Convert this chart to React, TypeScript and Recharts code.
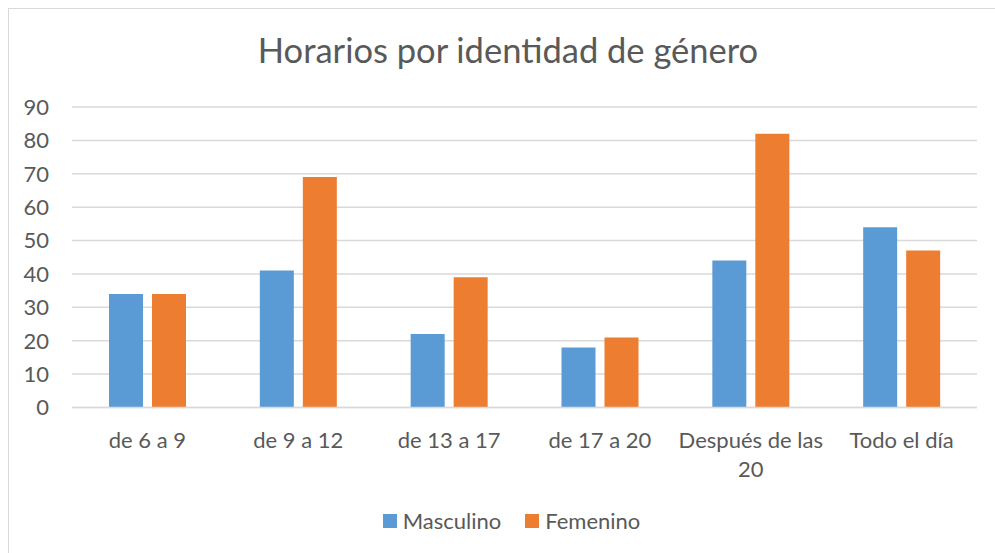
import { BarChart, Bar, XAxis, YAxis, CartesianGrid, Legend } from "recharts";

const categories = ["de 6 a 9", "de 9 a 12", "de 13 a 17", "de 17 a 20", "Después de las 20", "Todo el día"];
const masculino = [34, 41, 22, 18, 44, 54];
const femenino = [34, 69, 39, 21, 82, 47];
const yTicks = [0, 10, 20, 30, 40, 50, 60, 70, 80, 90];

const data = categories.map((name, i) => ({ name, Masculino: masculino[i], Femenino: femenino[i] }));

const FONT = "Lato, 'Open Sans', sans-serif";
const TEXT = "#595959";
const GRID = "#d9d9d9";
const BLUE = "#5B9BD5";
const ORANGE = "#ED7D31";

let ctx: CanvasRenderingContext2D | null = null;
function measure(s: string) {
    if (!ctx) ctx = document.createElement("canvas").getContext("2d");
    if (!ctx) return s.length * 10;
    ctx.font = `22px ${FONT}`;
    return ctx.measureText(s).width;
}

// greedy word wrap, like Excel does for long category names
function wrap(label: string, maxWidth: number) {
    const lines: string[] = [];
    let cur = "";
    for (const w of label.split(" ")) {
        const next = cur ? cur + " " + w : w;
        if (cur && measure(next) > maxWidth) {
            lines.push(cur);
            cur = w;
        } else {
            cur = next;
        }
    }
    if (cur) lines.push(cur);
    return lines;
}

function CategoryTick(props: any) {
    const { x, y, payload } = props;
    const lines = wrap(payload.value, 148);
    return (
        <text x={x} y={y + 32} textAnchor="middle" fontSize={22} fontFamily={FONT} fill={TEXT}>
            {lines.map((l, i) => (
                <tspan key={i} x={x} dy={i === 0 ? 0 : 29}>
                    {l}
                </tspan>
            ))}
        </text>
    );
}

function LegendBox() {
    const items = [
        { label: "Masculino", color: BLUE },
        { label: "Femenino", color: ORANGE },
    ];
    return (
        <div style={{ display: "flex", justifyContent: "center", gap: 24, paddingLeft: 19, fontFamily: FONT, fontSize: 22, color: TEXT }}>
            {items.map((it) => (
                <div key={it.label} style={{ display: "flex", alignItems: "center" }}>
                    <span style={{ width: 14, height: 14, background: it.color, marginRight: 6, display: "inline-block" }} />
                    <span>{it.label}</span>
                </div>
            ))}
        </div>
    );
}

export default function App() {
    return (
        <div
            style={{
                position: "absolute",
                left: 8,
                top: 8,
                width: 987,
                height: 545,
                boxSizing: "border-box",
                borderLeft: `1px solid ${GRID}`,
                borderTop: `1px solid ${GRID}`,
                background: "#fff",
                overflow: "hidden",
            }}
        >
            <div
                style={{
                    position: "absolute",
                    left: 0,
                    top: 21,
                    width: 998,
                    textAlign: "center",
                    fontFamily: FONT,
                    fontSize: 34.5,
                    color: TEXT,
                    lineHeight: "40px",
                }}
            >
                Horarios por identidad de género
            </div>
            <BarChart
                width={986}
                height={544}
                data={data}
                margin={{ top: 98, right: 18, left: 0, bottom: 0 }}
                barSize={34}
                barGap={9}
            >
                <CartesianGrid vertical={false} stroke={GRID} strokeWidth={1.5} />
                <XAxis
                    dataKey="name"
                    height={145.5}
                    axisLine={{ stroke: GRID, strokeWidth: 1.5 }}
                    tickLine={false}
                    tick={<CategoryTick />}
                    interval={0}
                />
                <YAxis
                    width={63}
                    domain={[0, 90]}
                    ticks={yTicks}
                    axisLine={false}
                    tickLine={false}
                    tickSize={0}
                    tickMargin={23}
                    tick={{ fontSize: 22, fontFamily: FONT, fill: TEXT }}
                />
                <Legend
                    layout="horizontal"
                    verticalAlign="middle"
                    align="center"
                    wrapperStyle={{ position: "absolute", top: 498, left: 0, width: 986 }}
                    content={<LegendBox />}
                />
                <Bar dataKey="Masculino" fill={BLUE} isAnimationActive={false} />
                <Bar dataKey="Femenino" fill={ORANGE} isAnimationActive={false} />
            </BarChart>
        </div>
    );
}
